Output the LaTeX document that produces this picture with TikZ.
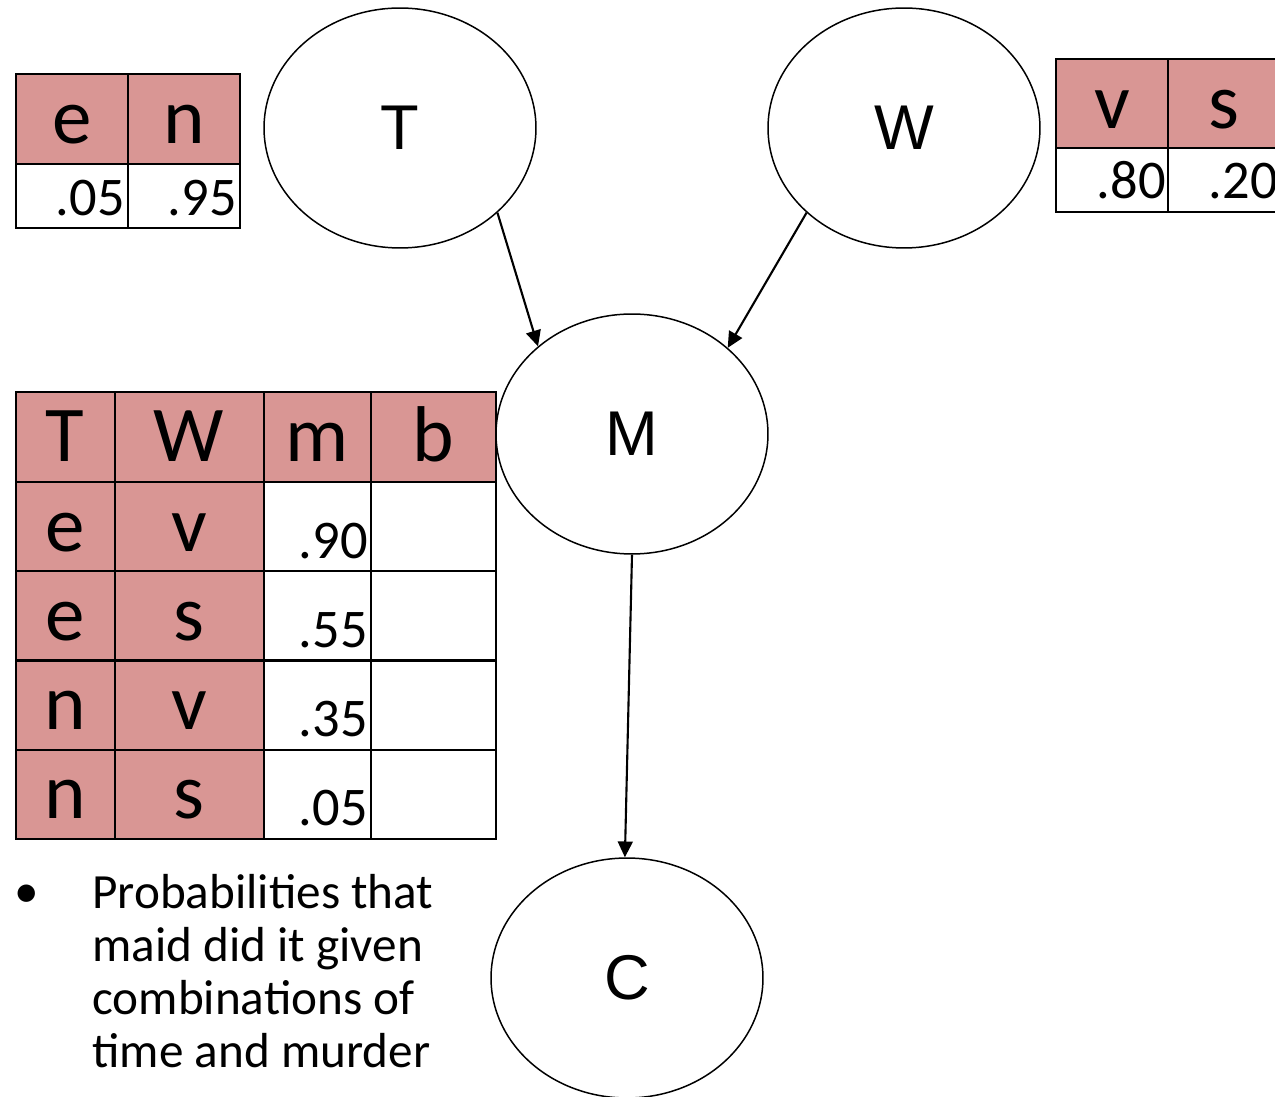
\documentclass[tikz,border=0pt]{standalone}
\usepackage{fontspec}
\setmainfont{Carlito}
\newfontfamily\arialfont{Liberation Sans}
\usetikzlibrary{arrows.meta,shapes.geometric}
\definecolor{cellpink}{RGB}{217,150,148}
\tikzset{
  var/.style={draw, ellipse, line width=0.85pt, minimum width=5.44cm,
    minimum height=4.8cm, inner sep=0pt, font=\arialfont\fontsize{36}{40}\selectfont},
  link/.style={line width=1.2pt, -{Triangle[length=9pt,width=8.5pt]}},
  cell/.style={line width=1.4pt},
  head/.style={anchor=base, inner sep=0pt, font=\fontsize{45}{50}\selectfont},
  prob/.style={anchor=base east, inner sep=0pt, font=\fontsize{31}{34}\selectfont},
}
\begin{document}
\begin{tikzpicture}[x=0.02cm, y=-0.02cm]
  \useasboundingbox (0,0) rectangle (1275,1097);

  % network
  \node[var] (T) at (400,128) {T};
  \node[var] (W) at (904,128) {W};
  \node[var] (M) at (632,434) {M};
  \node[var] (C) at (627,978) {C};
  \draw[link] (T.-41) -- (M.137);
  \draw[link] (W.221) -- (M.42);
  \draw[link] (M.-90) -- (C.91);

  % prior of T
  \draw[cell, fill=cellpink] (16,74) rectangle (128,164);
  \draw[cell, fill=cellpink] (128,74) rectangle (240,164);
  \draw[cell] (16,164) rectangle (128,228);
  \draw[cell] (128,164) rectangle (240,228);
  \node[head] (te) at (72,144) {e};
  \node[head] (tn) at (184,144) {n};
  \node[prob] (pe) at (125,216) {.05};
  \node[prob] (pn) at (237,216) {.95};

  % prior of W
  \draw[cell, fill=cellpink] (1056,59) rectangle (1168,148);
  \draw[cell, fill=cellpink] (1168,59) rectangle (1280,148);
  \draw[cell] (1056,148) rectangle (1168,212);
  \draw[cell] (1168,148) rectangle (1280,212);
  \node[head] (wv) at (1112,129) {v};
  \node[head] (ws) at (1224,129) {s};
  \node[prob] (pv) at (1166,199) {.80};
  \node[prob] (ps) at (1278,199) {.20};

  % table of M given T and W
  \draw[cell, fill=cellpink] (16,392) rectangle (115,482);
  \draw[cell, fill=cellpink] (115,392) rectangle (264,482);
  \draw[cell, fill=cellpink] (264,392) rectangle (371,482);
  \draw[cell, fill=cellpink] (371,392) rectangle (496,482);
  \node[head] (hT) at (65,462) {T};
  \node[head] (hW) at (189,462) {W};
  \node[head] (hm) at (317,462) {m};
  \node[head] (hb) at (433,462) {b};
  \foreach \t/\w/\p [count=\i] in {e/v/.90, e/s/.55, n/v/.35, n/s/.05} {
    \pgfmathsetmacro\top{482+(\i-1)*89.25}
    \pgfmathsetmacro\bot{\top+89.25}
    \draw[cell, fill=cellpink] (16,\top) rectangle (115,\bot);
    \draw[cell, fill=cellpink] (115,\top) rectangle (264,\bot);
    \draw[cell] (264,\top) rectangle (371,\bot);
    \draw[cell] (371,\top) rectangle (496,\bot);
    \node[head] (rt\i) at (65,\bot-20) {\t};
    \node[head] (rw\i) at (189,\bot-20) {\w};
    \node[prob] (rm\i) at (368,\bot-13) {\p};
  }

  % note (base anchor sits on the last line)
  \node[anchor=base, inner sep=0pt, font=\fontsize{28}{30}\selectfont] (dot) at (27,908) {•};
  \node[anchor=base west, inner sep=0pt, align=left, font=\fontsize{28}{30}\selectfont] (note) at (92,1067)
    {Probabilities that\\maid did it given\\combinations of\\time and murder};
\end{tikzpicture}
\end{document}
